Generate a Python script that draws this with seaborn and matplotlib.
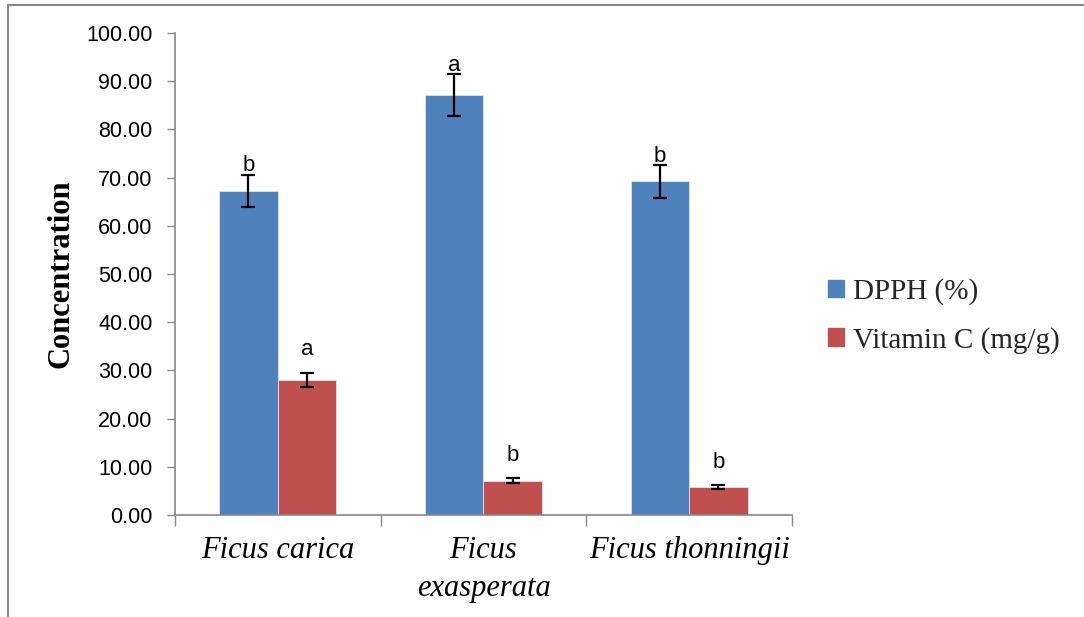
import pandas as pd
import numpy as np
import seaborn as sns
import matplotlib.pyplot as plt
from matplotlib.lines import Line2D
from matplotlib.ticker import FormatStrFormatter, FixedLocator

# data
species = ['Ficus carica', 'Ficus exasperata', 'Ficus thonningii']
species_labels = ['Ficus carica', 'Ficus\nexasperata', 'Ficus thonningii']
series = ['DPPH (%)', 'Vitamin C (mg/g)']
dpph = [67.3, 87.1, 69.2]
dpph_err = [3.3, 4.3, 3.4]
vitc = [28.0, 7.1, 5.8]
vitc_err = [1.5, 0.5, 0.4]
dpph_letters = ['b', 'a', 'b']
vitc_letters = ['a', 'b', 'b']

df = pd.DataFrame({
    'Species': species * 2,
    'Series': [series[0]] * 3 + [series[1]] * 3,
    'Value': dpph + vitc,
})

sns.set_style('white')
plt.rcParams['font.family'] = ['Liberation Sans', 'DejaVu Sans']

fig = plt.figure(figsize=(10.84, 6.17), dpi=100)
ax = fig.add_axes([0.1614, 0.1653, 0.7306 - 0.1614, 0.9465 - 0.1653])

colors = ['#4F81BD', '#C0504D']
sns.barplot(data=df, x='Species', y='Value', hue='Series', order=species,
            hue_order=series, palette=colors, saturation=1, errorbar=None,
            width=0.57, edgecolor='#dde6f0', linewidth=0.6, ax=ax, legend=False)

# error bars + significance letters
errs = [dpph_err, vitc_err]
letters = [dpph_letters, vitc_letters]
offsets = [-0.3, 2.6]
bar_conts = list(ax.containers)
for k, cont in enumerate(bar_conts):
    for i, bar in enumerate(cont):
        xc = bar.get_x() + bar.get_width() / 2
        h = bar.get_height()
        ax.errorbar(xc, h, yerr=errs[k][i], fmt='none', ecolor='black',
                    elinewidth=1.6, capsize=5, capthick=1.6, zorder=5)
        ax.text(xc, h + errs[k][i] + offsets[k], letters[k][i],
                ha='center', va='bottom', fontsize=16, color='black')

ax.set_xlim(-0.5, 2.5)
ax.set_ylim(0, 100)
ax.set_yticks(np.arange(0, 101, 10))
ax.yaxis.set_major_formatter(FormatStrFormatter('%.2f'))
ax.tick_params(axis='y', labelsize=15.5, length=6, width=1, color='#888888',
               direction='out', left=True, pad=10, labelcolor='black')
ax.set_xticks(range(3))
ax.set_xticklabels(species_labels, fontsize=22, fontstyle='italic',
                   family='Liberation Serif', linespacing=1.4)
ax.tick_params(axis='x', length=0, pad=15, labelcolor='black')
ax.xaxis.set_minor_locator(FixedLocator([-0.5, 0.5, 1.5, 2.5]))
ax.tick_params(axis='x', which='minor', length=8, width=1, color='#888888',
               direction='out', bottom=True)
ax.set_xlabel('')
ax.set_ylabel('Concentration', fontsize=22, fontweight='bold',
              family='Liberation Serif', labelpad=8, color='black')

for s in ['top', 'right']:
    ax.spines[s].set_visible(False)
for s in ['left', 'bottom']:
    ax.spines[s].set_color('#888888')
    ax.spines[s].set_linewidth(1.2)

handles = [plt.Rectangle((0, 0), 1, 1, color=c) for c in colors]
fig.legend(handles, series, loc='center left', bbox_to_anchor=(0.74, 0.488),
           frameon=False, handlelength=0.55, handleheight=0.55,
           handletextpad=0.3, labelspacing=0.75,
           prop={'family': 'Liberation Serif', 'size': 21})

# outer frame lines (top and left)
fig.add_artist(Line2D([8 / 1084, 1], [1 - 4.5 / 617] * 2, color='#888888', lw=1.5))
fig.add_artist(Line2D([8 / 1084] * 2, [0, 1 - 4.5 / 617], color='#888888', lw=1.5))

fig.savefig('out.png', dpi=100)
